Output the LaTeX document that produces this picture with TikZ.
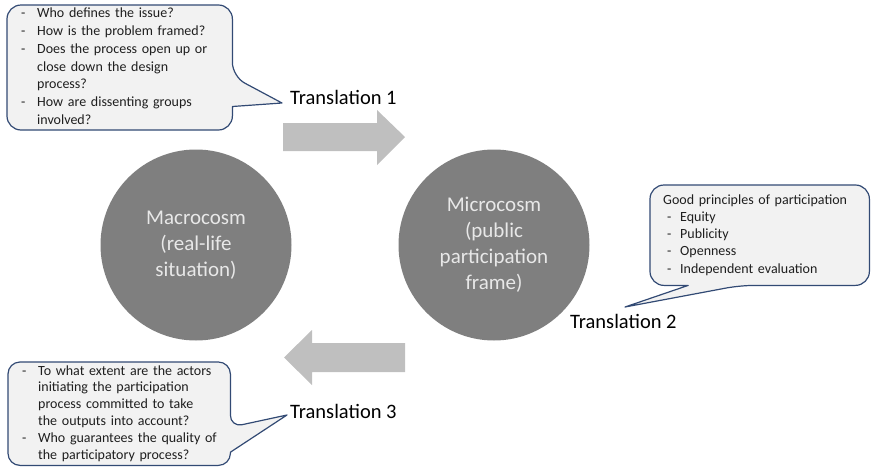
\documentclass[tikz,border=0pt]{standalone}
\usepackage{fontspec}
\setmainfont{Carlito}
\usetikzlibrary{backgrounds}

\definecolor{cosmgray}{HTML}{7F7F7F}
\definecolor{cosmtext}{HTML}{E8E8E8}
\definecolor{arrowgray}{HTML}{BFBFBF}
\definecolor{boxfill}{HTML}{F2F2F2}
\definecolor{boxline}{RGB}{50,74,116}

\newcommand{\dashitem}{\makebox[16pt][l]{-}}
\newcommand{\dashcont}{\hspace*{16pt}}

\begin{document}
\begin{tikzpicture}[x=1pt, y=-1pt,
    cosm/.style={circle, fill=cosmgray, minimum size=191pt, inner sep=0pt, text=cosmtext,
        align=center, font=\fontsize{21}{26}\selectfont},
    trans/.style={inner sep=0pt, anchor=west, font=\fontsize{20.5}{24}\selectfont},
    qbox/.style={rectangle, anchor=north west, inner xsep=14pt, inner ysep=0pt, align=left,
        text=black!88},
    qline/.style={draw=boxline, fill=boxfill, line width=1.2pt, line join=round},
    fat/.style={fill=arrowgray}]

    \useasboundingbox (0,0) rectangle (871,472);

    \node[cosm] (macro) at (196,245) {Macrocosm\\(real-life\\situation)};
    \node[cosm] (micro) at (494,245) {Microcosm\\(public\\participation\\frame)};

    % block arrows
    \fill[fat] (283,123) -- (377,123) -- (377,110) -- (405,137) -- (377,165) -- (377,151) -- (283,151) -- cycle;
    \fill[fat] (405,343) -- (312,343) -- (312,330) -- (284,357.5) -- (312,385) -- (312,372) -- (405,372) -- cycle;

    \node[trans] (t1) at (290,97) {Translation 1};
    \node[trans] (t2) at (570,321) {Translation 2};
    \node[trans] (t3) at (290,411) {Translation 3};

    \coordinate (p1) at (282,103);
    \coordinate (p2) at (625,307);
    \coordinate (p3) at (287,415);

    \node[qbox, text width=197pt, minimum height=122pt, font=\fontsize{14}{17.8}\selectfont] (q1) at (7,5)
        {\begin{tabular}{@{}l@{}}
         \dashitem Who defines the issue?\\
         \dashitem How is the problem framed?\\
         \dashitem Does the process open up or\\
         \dashcont close down the design\\
         \dashcont process?\\
         \dashitem How are dissenting groups\\
         \dashcont involved?
         \end{tabular}};

    \node[qbox, inner xsep=13pt, text width=193pt, minimum height=100pt, font=\fontsize{14}{17.2}\selectfont] (q2) at (650,185)
        {\begin{tabular}{@{}l@{}}
         Good principles of participation\\
         \hspace*{4pt}\makebox[13pt][l]{-}Equity\\
         \hspace*{4pt}\makebox[13pt][l]{-}Publicity\\
         \hspace*{4pt}\makebox[13pt][l]{-}Openness\\
         \hspace*{4pt}\makebox[13pt][l]{-}Independent evaluation
         \end{tabular}};

    \node[qbox, text width=194pt, minimum height=103pt, font=\fontsize{14}{16.8}\selectfont] (q3) at (8,362)
        {\begin{tabular}{@{}l@{}}
         \dashitem To what extent are the actors\\
         \dashcont initiating the participation\\
         \dashcont process committed to take\\
         \dashcont the outputs into account?\\
         \dashitem Who guarantees the quality of\\
         \dashcont the participatory process?
         \end{tabular}};

    \begin{scope}[on background layer]
        \draw[qline] (q1.north) [rounded corners=14pt] -- (q1.north east) -- ([yshift=-9pt]q1.east)
            [sharp corners] -- (p1) -- ([yshift=-39pt]q1.east) [rounded corners=14pt] -- (q1.south east)
            -- (q1.south west) -- (q1.north west) -- cycle;
        \draw[qline] (q2.north) [rounded corners=14pt] -- (q2.north east) -- (q2.south east)
            -- ([xshift=-19.5pt]q2.south) [sharp corners] -- (p2) -- ([xshift=-71.5pt]q2.south)
            [rounded corners=14pt] -- (q2.south west) -- (q2.north west) -- cycle;
        \draw[qline] (q3.north) [rounded corners=12pt] -- (q3.north east) -- ([yshift=-13.5pt]q3.east)
            [sharp corners] -- (p3) -- ([yshift=-38.5pt]q3.east) [rounded corners=12pt] -- (q3.south east)
            -- (q3.south west) -- (q3.north west) -- cycle;
    \end{scope}
\end{tikzpicture}
\end{document}
